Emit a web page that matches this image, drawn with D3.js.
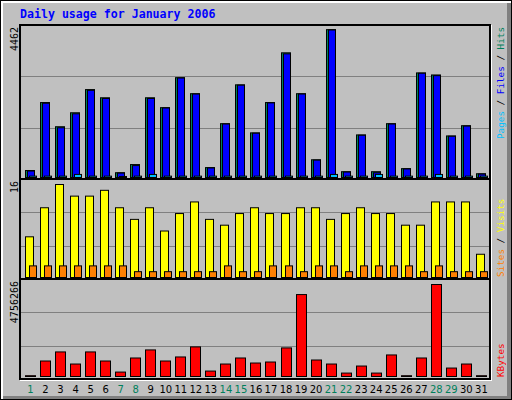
<!DOCTYPE html>
<html><head><meta charset="utf-8">
<script src="https://cdn.jsdelivr.net/npm/d3@7"></script>
<style>body{margin:0;background:#fff}svg{display:block}</style>
</head><body>
<script>
const days = d3.range(1, 32);
const weekends = [1,7,8,14,15,21,22,28,29];
const hits  = [205,2200,1490,1900,2580,2340,140,380,2340,2050,2930,2460,290,1580,2720,1310,2200,3660,2460,520,4340,170,1250,170,1580,260,3070,3010,1220,1520,110];
const files = [190,2180,1460,1870,2560,2320,130,350,2320,2040,2920,2450,280,1570,2710,1300,2190,3630,2450,510,4330,160,1240,140,1570,250,3060,2990,1210,1510,100];
const pages = [40,40,40,90,40,40,30,40,90,40,40,40,40,40,40,40,40,40,40,40,90,40,40,90,40,40,40,90,40,40,40];
const visits = [7,12,16,14,14,15,12,10,12,8,11,13,10,9,11,12,11,11,12,12,10,11,12,11,11,9,9,13,13,13,4];
const sites  = [2,2,2,2,2,2,2,1,1,1,1,1,1,2,1,1,2,2,1,2,2,1,2,2,2,2,1,2,1,1,1];
const kbytes = [40000,801000,1270000,645000,1270000,801000,229000,957000,1374000,801000,1010000,1530000,281000,645000,957000,697000,749000,1478000,4236000,853000,645000,177000,541000,177000,1114000,40000,957000,4756266,437000,645000,40000];
const title = "Daily usage for January 2006";
const maxLabels = ["4462","16","4756266"];

const W=512,H=400;
const svg=d3.select("body").append("svg").attr("width",W).attr("height",H);
svg.append("rect").attr("x",0).attr("y",0).attr("width",W).attr("height",H).attr("fill","#fff");
svg.append("rect").attr("x",0.5).attr("y",0.5).attr("width",W-1).attr("height",H-1).attr("fill","none").attr("stroke","#000");
svg.append("rect").attr("x",3).attr("y",3).attr("width",504).attr("height",393).attr("fill","#c0c0c0");
svg.append("rect").attr("x",507).attr("y",3).attr("width",4).attr("height",396).attr("fill","#808080");
svg.append("rect").attr("x",3).attr("y",396).attr("width",508).attr("height",3).attr("fill","#808080");

svg.append("text").attr("x",20).attr("y",18).text(title)
  .attr("font-family","DejaVu Sans Mono").attr("font-weight","bold").attr("font-size","11.6px").attr("fill","#0000ff");

const x=d3.scaleBand().domain(days).range([20,20+31*15.03]);
const panels=[[25,179],[179,279],[279,379]];
panels.forEach(([t,b])=>{
  svg.append("rect").attr("x",20).attr("y",t).attr("width",470).attr("height",b-t).attr("fill","#c0c0c0");
  [1,2].forEach(k=>{const gy=Math.round(t+(b-t)*k/3)+0.5;
    svg.append("line").attr("x1",21).attr("x2",489).attr("y1",gy).attr("y2",gy).attr("stroke","#808080");});
});
const yT=d3.scaleLinear().domain([0,4462]).range([177,25]);
const yM=d3.scaleLinear().domain([0,16]).range([277,184]);
const yB=d3.scaleLinear().domain([0,4756266]).range([376,284]);

function bars(data,y,off,w,color){
  svg.append("g").selectAll("rect").data(data).join("rect")
   .attr("x",(d,i)=>Math.round(x(days[i])+off)+0.5).attr("width",w)
   .attr("y",d=>y(d)+0.5).attr("height",d=>Math.max(0,y(0)-y(d)))
   .attr("fill",color).attr("stroke","#000").attr("stroke-width",1);
}
bars(hits,yT,5,9,"#00805c");
bars(files,yT,7,7,"#0000ff");
bars(pages,yT,9,7,"#00c0ff");
bars(visits,yM,5,8,"#ffff00");
bars(sites,yM,9,7,"#ff8000");
bars(kbytes,yB,5,10,"#ff0000");

panels.forEach(([t,b])=>{
  svg.append("rect").attr("x",20).attr("y",t).attr("width",470).attr("height",b-t).attr("fill","none").attr("stroke","#000").attr("stroke-width",2);
});
svg.append("line").attr("x1",491.5).attr("x2",491.5).attr("y1",25).attr("y2",380).attr("stroke","#fff");
svg.append("line").attr("x1",20).attr("x2",492).attr("y1",380.5).attr("y2",380.5).attr("stroke","#fff");

const ff="DejaVu Sans Mono";
maxLabels.forEach((l,i)=>{
  const t=panels[i][0]+2;
  svg.append("text").attr("transform",`translate(18,${t}) rotate(-90)`).attr("text-anchor","end")
    .attr("font-family",ff).attr("font-size","10px").text(l);
});
function rlabel(parts,y,anchor){
  const tx=svg.append("text").attr("transform",`translate(504,${y}) rotate(-90)`).attr("text-anchor",anchor)
    .attr("font-family",ff).attr("font-size","9.3px");
  parts.forEach(([s,c])=>tx.append("tspan").attr("fill",c).text(s));
}
rlabel([["Pages","#00c0ff"],[" / ","#000"],["Files","#0000ff"],[" / ","#000"],["Hits","#00805c"]],27,"end");
rlabel([["Sites","#ff8000"],[" / ","#000"],["Visits","#ffff00"]],277,"start");
rlabel([["KBytes","#ff0000"]],377,"start");

svg.append("g").selectAll("text").data(days).join("text")
  .attr("x",d=>x(d)+10.5).attr("y",393).attr("text-anchor","middle")
  .attr("font-family","DejaVu Sans").attr("font-size","10px")
  .attr("fill",d=>weekends.includes(d)?"#00805c":"#000").text(d=>d);
</script>
</body></html>
